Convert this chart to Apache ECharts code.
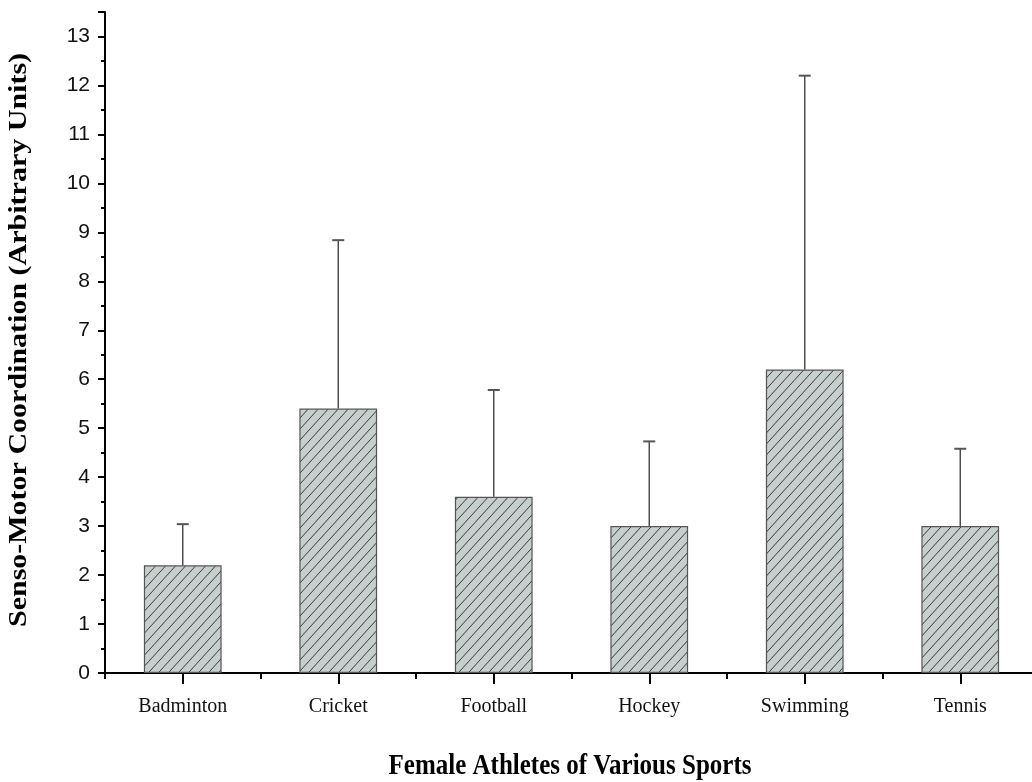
<!DOCTYPE html>
<html>
<head>
<meta charset="utf-8">
<script src="https://cdn.jsdelivr.net/npm/echarts@6/dist/echarts.min.js"></script>
<style>
html,body{margin:0;padding:0;background:#fff;overflow:hidden;width:1032px;height:782px;}
#chart{width:1050px;height:782px;}
</style>
</head>
<body>
<div id="chart"></div>
<script>
var categories = ['Badminton', 'Cricket', 'Football', 'Hockey', 'Swimming', 'Tennis'];
var means = [2.2, 5.4, 3.6, 3.0, 6.2, 3.0];
var errors = [0.84, 3.44, 2.18, 1.73, 6.0, 1.58];
var yTicks = [0, 1, 2, 3, 4, 5, 6, 7, 8, 9, 10, 11, 12, 13];
var xTitle = 'Female Athletes of Various Sports';
var yTitle = 'Senso-Motor Coordination (Arbitrary Units)';

function makeHatch() {
  var w = 10, h = 11;
  var c = document.createElement('canvas');
  c.width = w; c.height = h;
  var ctx = c.getContext('2d');
  ctx.fillStyle = '#c6cfcd';
  ctx.fillRect(0, 0, w, h);
  ctx.strokeStyle = '#3a3a3a';
  ctx.lineWidth = 1;
  for (var k = -1; k <= 1; k++) {
    ctx.beginPath();
    ctx.moveTo(k * w - 1, h + 1.1);
    ctx.lineTo(k * w + w + 1, -1.1);
    ctx.stroke();
  }
  return c;
}

var chart = echarts.init(document.getElementById('chart'));
var option = {
  animation: false,
  backgroundColor: '#ffffff',
  grid: { left: 105, top: 12, width: 933, height: 661, containLabel: false },
  xAxis: [{
    type: 'category',
    data: categories,
    axisLine: { lineStyle: { color: '#000', width: 2 } },
    axisTick: { show: true, alignWithLabel: true, length: 11, lineStyle: { color: '#000', width: 2 } },
    axisLabel: { color: '#111', fontFamily: 'Liberation Serif', fontSize: 20, margin: 24 },
    splitLine: { show: false }
  }, {
    type: 'category',
    data: categories,
    position: 'bottom',
    axisLine: { show: false },
    axisTick: { show: true, length: 6, lineStyle: { color: '#000', width: 2 } },
    axisLabel: { show: false },
    splitLine: { show: false }
  }],
  yAxis: {
    type: 'value',
    min: 0,
    max: 13.5,
    interval: 1,
    axisLine: { show: true, lineStyle: { color: '#000', width: 2 } },
    axisTick: { show: true, length: 7, lineStyle: { color: '#000', width: 2 } },
    minorTick: { show: true, splitNumber: 2, length: 4, lineStyle: { color: '#000', width: 2 } },
    axisLabel: {
      color: '#111', fontFamily: 'Liberation Sans', fontSize: 21, margin: 15,
      showMaxLabel: false,
      formatter: function (v) { return yTicks.indexOf(v) >= 0 ? String(v) : ''; }
    },
    splitLine: { show: false }
  },
  series: [{
    type: 'bar',
    data: means,
    barWidth: '50%',
    itemStyle: {
      color: { image: makeHatch(), repeat: 'repeat' },
      borderColor: '#555',
      borderWidth: 1.2
    },
    z: 2
  }, {
    type: 'custom',
    data: means.map(function (m, i) { return [i, m, m + errors[i]]; }),
    renderItem: function (params, api) {
      var i = api.value(0);
      var p0 = api.coord([i, api.value(1)]);
      var p1 = api.coord([i, api.value(2)]);
      var cw = 6;
      return {
        type: 'group',
        children: [{
          type: 'line',
          shape: { x1: p0[0], y1: p0[1], x2: p1[0], y2: p1[1] },
          style: { stroke: '#444', lineWidth: 1.4 }
        }, {
          type: 'line',
          shape: { x1: p1[0] - cw, y1: p1[1], x2: p1[0] + cw, y2: p1[1] },
          style: { stroke: '#555', lineWidth: 2 }
        }]
      };
    },
    z: 3
  }],
  graphic: [{
    type: 'text',
    x: 570, y: 766,
    scaleY: 1.2,
    style: {
      text: xTitle, fill: '#000',
      font: 'bold 25px "Liberation Serif"',
      align: 'center', verticalAlign: 'middle'
    }
  }, {
    type: 'text',
    x: 20, y: 340,
    rotation: Math.PI / 2,
    scaleX: 1.2,
    style: {
      text: yTitle, fill: '#000',
      font: 'bold 25px "Liberation Serif"',
      align: 'center', verticalAlign: 'middle'
    }
  }]
};
chart.setOption(option);
</script>
</body>
</html>
